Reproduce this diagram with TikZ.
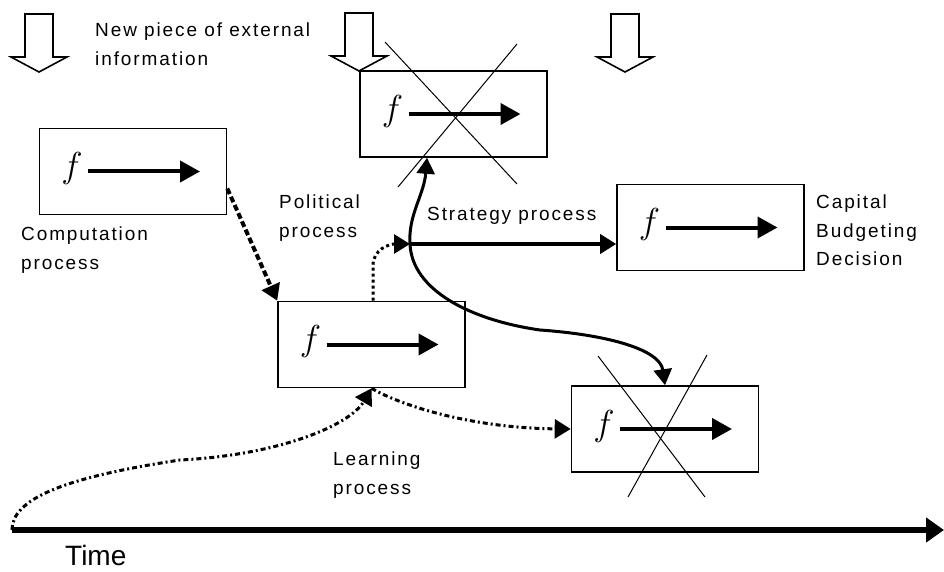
\documentclass[tikz,border=0pt]{standalone}
\usepackage{fontspec}
\newfontfamily\lblfont{Liberation Sans}[LetterSpace=10]
\newfontfamily\timefont{Liberation Sans}
\usetikzlibrary{arrows.meta}
\begin{document}
\begin{tikzpicture}[x=1pt,y=-1pt,
  box/.style={draw,line width=1.6pt,minimum width=187pt,minimum height=86pt,inner sep=0pt},
  fsym/.style={inner sep=0pt,font=\fontsize{24.88}{25}\selectfont},
  farrow/.style={line width=4pt,-{Triangle[length=20pt,width=21pt]}},
  lbl/.style={font=\lblfont\fontsize{19}{28.5}\selectfont,align=left,anchor=north west,inner sep=0pt},
  conn/.style={line width=3.5pt,-{Triangle[length=16pt,width=19pt]}},
  learn/.style={conn,line width=3pt,dash pattern=on 5pt off 3pt on 2pt off 3pt},
  xline/.style={line width=1pt},
  blockdown/.pic={\draw[line width=1.6pt,fill=white] (-14,-58) -- (14,-58) -- (14,-15) -- (28,-15) -- (0,0) -- (-28,-15) -- (-14,-15) -- cycle;}
]
\useasboundingbox (0,0) rectangle (944,572);
\fill[white] (0,0) rectangle (944,572);

% boxes
\node[box] (comp) at (133,171.5) {};
\node[box] (top) at (453.5,114) {};
\node[box] (pol) at (371.5,344.5) {};
\node[box] (cap) at (710.5,227.5) {};
\node[box] (bot) at (665,429) {};

\foreach \b in {comp,top,pol,cap,bot}{
  \node[fsym] (\b-f) at ([shift={(-61,-3)}]\b.center) {\scalebox{1.45}{$f$}};
  \draw[farrow] ([xshift=-45pt]\b.center) -- ([xshift=67pt]\b.center);
}

% crossing-out lines
\draw[xline] (385,42) -- (517,184);
\draw[xline] (517,44) -- (398,187);
\draw[xline] (598,356) -- (705,497);
\draw[xline] (707,355) -- (628,497);

% block arrows
\pic at (39,72) {blockdown};
\pic at (359,71) {blockdown};
\pic at (625,72) {blockdown};

% labels
\node[lbl] (newinfo) at (95,23) {New piece of external\\information};
\node[lbl] (complbl) at (21,227) {Computation\\process};
\node[lbl] (pollbl) at (279,195) {Political\\process};
\node[lbl] (stratlbl) at (427,207) {Strategy process};
\node[lbl] (caplbl) at (816,195) {Capital\\Budgeting\\Decision};
\node[lbl] (learnlbl) at (333,452) {Learning\\process};
\node[font=\timefont\fontsize{28}{28}\selectfont,anchor=north west,inner sep=0pt] (time) at (65,545) {Time};

% time axis
\coordinate (t0) at (12,530);
\coordinate (t1) at (944,530);
\draw[line width=6pt,-{Triangle[length=18pt,width=24pt]}] (t0) -- (t1);

% connectors
\coordinate (j) at (410,244);
\draw[conn,line width=4pt,dash pattern=on 6pt off 3pt] ([yshift=-17pt]comp.east) -- (pol.north west);
\draw[learn] (t0) .. controls (12,500) and (60,478) .. (180,460) .. controls (280,455) and (350,425) .. (pol.south);
\draw[learn] (pol.south) .. controls (400,405) and (470,428) .. (bot.west);
\draw[conn,line width=3pt,dash pattern=on 3pt off 3pt] ([xshift=1.5pt]pol.north) -- ++(0,-35) .. controls +(0,-17) and (390,244) .. (j);
\draw[conn] (j) -- (j -| cap.west);
\draw[line width=3pt,{Triangle[length=16pt,width=18pt]}-{Triangle[length=16pt,width=18pt]}]
  ([xshift=-26.5pt]top.south) .. controls (424,195) and (408,215) .. (j)
  .. controls (412,290) and (470,320) .. (540,330)
  .. controls (610,335) and (660,350) .. (bot.north);
\end{tikzpicture}
\end{document}
